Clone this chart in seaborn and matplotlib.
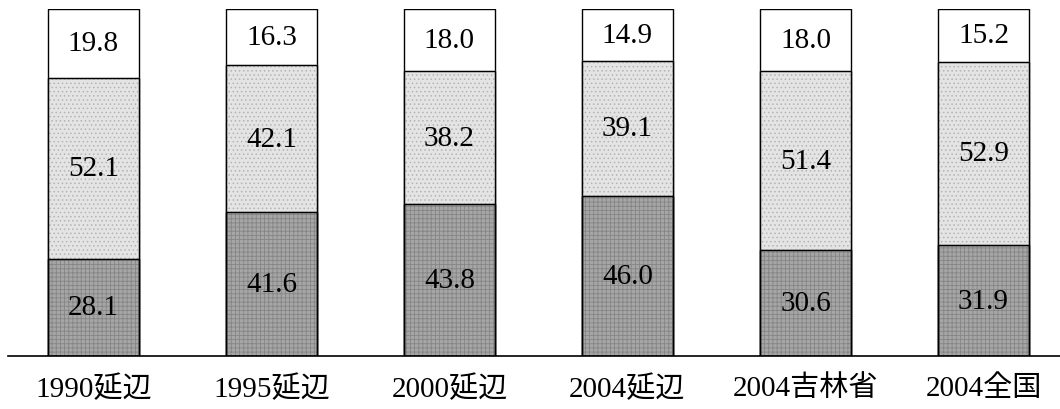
import matplotlib
matplotlib.use("Agg")
import matplotlib.pyplot as plt
import seaborn as sns
import pandas as pd

sns.set_theme(style="white")
plt.rcParams["font.family"] = ["Liberation Serif", "Noto Sans CJK JP"]
plt.rcParams["hatch.linewidth"] = 0.6
plt.rcParams["text.color"] = "black"
plt.rcParams["xtick.color"] = "black"

categories = ["1990延辺", "1995延辺", "2000延辺", "2004延辺", "2004吉林省", "2004全国"]
bottom_share = [28.1, 41.6, 43.8, 46.0, 30.6, 31.9]
middle_share = [52.1, 42.1, 38.2, 39.1, 51.4, 52.9]
top_share = [19.8, 16.3, 18.0, 14.9, 18.0, 15.2]

df = pd.DataFrame({
    "category": categories,
    "bottom": bottom_share,
    "middle": middle_share,
    "top": top_share,
})
df["cum_mid"] = df["bottom"] + df["middle"]
df["cum_top"] = df["cum_mid"] + df["top"]

fig = plt.figure(figsize=(10.6, 4.1), dpi=100)
ax = fig.add_axes([0.0075, 0.129, 0.9925, 0.847])

# cumulative layers drawn back to front: white top, light middle, dark bottom
layers = [("cum_top", "white"), ("cum_mid", "#e4e4e4"), ("bottom", "#a6a6a6")]
for col, face in layers:
    sns.barplot(data=df, x="category", y=col, color=face, width=0.51,
                saturation=1, ax=ax, edgecolor="black", linewidth=1.0)

# stippled textures on the shaded layers
n = len(categories)
for i, patch in enumerate(ax.patches):
    layer = i // n
    if layer == 1:
        patch.set_hatch("....")
        patch.set_edgecolor("#b4b4b4")
    elif layer == 2:
        patch.set_hatch("++++")
        patch.set_edgecolor("#858585")

# crisp black outlines over the textured segments
for i, patch in enumerate(list(ax.patches)):
    if i // n in (1, 2):
        x, y = patch.get_xy()
        ax.add_patch(plt.Rectangle((x, y), patch.get_width(), patch.get_height(),
                                   fill=False, edgecolor="black", linewidth=1.0, zorder=3))

for i in range(n):
    b, m, t = bottom_share[i], middle_share[i], top_share[i]
    for yv, val in ((b / 2, b), (b + m / 2, m), (b + m + t / 2, t)):
        ax.text(i, yv, f"{val:.1f}", ha="center", va="center", fontsize=21,
                color="black", zorder=4)

ax.set_xlim(-0.48, 5.43)
ax.set_ylim(0, 100)
ax.set_xlabel("")
ax.set_ylabel("")
ax.set_yticks([])
ax.tick_params(axis="x", length=0, pad=13, labelsize=21, labelcolor="black")
for side in ("left", "right", "top"):
    ax.spines[side].set_visible(False)
ax.spines["bottom"].set_color("black")
ax.spines["bottom"].set_linewidth(1.2)
ax.set_facecolor("white")

fig.savefig("out.png", dpi=100, facecolor="white")
